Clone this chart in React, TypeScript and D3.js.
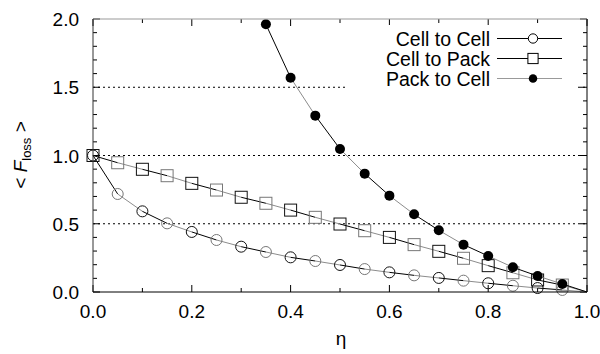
import React from 'react';
import * as d3 from 'd3';

// eta values where the curves are sampled (last point is the shared end at 1.0)
const eta = [0, 0.05, 0.1, 0.15, 0.2, 0.25, 0.3, 0.35, 0.4, 0.45, 0.5, 0.55, 0.6, 0.65, 0.7, 0.75, 0.8, 0.85, 0.9, 0.95, 1.0];
const cellToCell = [1.0, 0.718, 0.591, 0.503, 0.44, 0.381, 0.332, 0.293, 0.254, 0.227, 0.198, 0.168, 0.144, 0.122, 0.103, 0.083, 0.064, 0.046, 0.029, 0.015, 0];
const cellToPack = [1.0, 0.947, 0.899, 0.852, 0.796, 0.747, 0.694, 0.65, 0.6, 0.547, 0.498, 0.449, 0.4, 0.347, 0.298, 0.247, 0.193, 0.141, 0.088, 0.051, 0];
const packEta = [0.35, 0.4, 0.45, 0.5, 0.55, 0.6, 0.65, 0.7, 0.75, 0.8, 0.85, 0.9, 0.95, 1.0];
const packToCell = [1.961, 1.57, 1.292, 1.048, 0.867, 0.706, 0.569, 0.452, 0.347, 0.264, 0.181, 0.117, 0.059, 0];

const xTicks = [0, 0.2, 0.4, 0.6, 0.8, 1.0];
const yTicks = [0, 0.5, 1.0, 1.5, 2.0];
const gridLevels = [0.5, 1.0, 1.5];
const seriesNames = ['Cell to Cell', 'Cell to Pack', 'Pack to Cell'];

const width = 600;
const height = 354;
const margin = { top: 19, right: 13, bottom: 62, left: 93 };
const font = '"Liberation Sans", Arial, sans-serif';
const segColors = ['#000', '#8c8c8c'];

type Pt = { x: number; y: number };

const x = d3.scaleLinear().domain([0, 1]).range([margin.left, width - margin.right]);
const y = d3.scaleLinear().domain([0, 2]).range([height - margin.bottom, margin.top]);

const toPts = (xs: number[], ys: number[]): Pt[] => xs.map((v, i) => ({ x: v, y: ys[i] }));

const series: { name: string; pts: Pt[]; marker: 'circle' | 'square' | 'dot' }[] = [
  { name: seriesNames[0], pts: toPts(eta, cellToCell), marker: 'circle' },
  { name: seriesNames[1], pts: toPts(eta, cellToPack), marker: 'square' },
  { name: seriesNames[2], pts: toPts(packEta, packToCell), marker: 'dot' },
];

const Marker = ({ kind, cx, cy, color, legend }: { kind: string; cx: number; cy: number; color: string; legend?: boolean }) => {
  const s = legend ? 0.85 : 1;
  if (kind === 'circle')
    return <circle cx={cx} cy={cy} r={5.5 * s} fill={legend ? '#fff' : 'none'} stroke={color} strokeWidth={1} />;
  if (kind === 'square')
    return <rect x={cx - 6 * s} y={cy - 6 * s} width={12 * s} height={12 * s} fill={legend ? '#fff' : 'none'} stroke={color} strokeWidth={1} />;
  return <circle cx={cx} cy={cy} r={5 * s} fill="#000" />;
};

export default function App() {
  const x0 = x(0), x1 = x(1), y0 = y(0), y1 = y(2);
  const minorX = d3.range(0, 1.0001, 0.1);
  const minorY = d3.range(0, 2.0001, 0.1);

  return (
    <div style={{ position: 'absolute', left: 0, top: 0, background: '#fff' }}>
      <svg width={width} height={height} style={{ display: 'block', fontFamily: font }}>
        <rect width={width} height={height} fill="#fff" />

        {/* dotted reference lines */}
        {gridLevels.map(g => (
          <line key={g} x1={x0} x2={x1} y1={y(g)} y2={y(g)} stroke="#000" strokeWidth={1} strokeDasharray="2,3" />
        ))}

        {/* ticks on all four sides, pointing inwards */}
        {minorX.map((t, i) => {
          const len = i % 2 === 0 ? 7 : 4;
          return (
            <g key={'tx' + i}>
              <line x1={x(t)} x2={x(t)} y1={y0} y2={y0 - len} stroke="#000" />
              <line x1={x(t)} x2={x(t)} y1={y1} y2={y1 + len} stroke="#000" />
            </g>
          );
        })}
        {minorY.map((t, i) => {
          const len = i % 5 === 0 ? 7 : 4;
          return (
            <g key={'ty' + i}>
              <line x1={x0} x2={x0 + len} y1={y(t)} y2={y(t)} stroke="#000" />
              <line x1={x1} x2={x1 - len} y1={y(t)} y2={y(t)} stroke="#000" />
            </g>
          );
        })}

        {/* series */}
        {series.map(s => (
          <g key={s.name}>
            {d3.pairs(s.pts).map(([a, b], i) => (
              <line key={i} x1={x(a.x)} y1={y(a.y)} x2={x(b.x)} y2={y(b.y)} stroke={segColors[i % 2]} strokeWidth={1} />
            ))}
            {s.pts.filter(p => p.x < 1).map((p, i) => (
              <Marker key={i} kind={s.marker} cx={x(p.x)} cy={y(p.y)} color={segColors[i % 2] === '#000' ? '#111' : '#777'} />
            ))}
          </g>
        ))}

        {/* legend */}
        <rect x={345} y={25} width={230} height={66} fill="#fff" />
        {series.map((s, i) => {
          const cy = 38.5 + i * 20;
          return (
            <g key={'lg' + i}>
              <text x={490} y={cy + 7} textAnchor="end" fontSize={19.5} fill="#000">{s.name}</text>
              <line x1={497} x2={562} y1={cy} y2={cy} stroke={i === 2 ? '#999' : '#000'} />
              <Marker kind={s.marker} cx={533} cy={cy} color="#000" legend />
            </g>
          );
        })}

        {/* frame */}
        <line x1={x0} x2={x1} y1={y1} y2={y1} stroke="#999" />
        <line x1={x1} x2={x1} y1={y1} y2={y0} stroke="#000" />
        <line x1={x0} x2={x0} y1={y1} y2={y0} stroke="#333" />
        <line x1={x0} x2={x1} y1={y0} y2={y0} stroke="#000" />

        {/* tick labels */}
        {xTicks.map(t => (
          <text key={'xl' + t} x={x(t)} y={318} textAnchor="middle" fontSize={19} fill="#000">{t.toFixed(1)}</text>
        ))}
        {yTicks.map(t => (
          <text key={'yl' + t} x={79} y={y(t) + 7} textAnchor="end" fontSize={19} fill="#000">{t.toFixed(1)}</text>
        ))}

        {/* axis titles */}
        <text x={341} y={345} textAnchor="middle" fontSize={19} fill="#000">η</text>
        <text transform="translate(27,155) rotate(-90)" textAnchor="middle" fontSize={19} fill="#000">
          {'< '}
          <tspan fontStyle="italic">F</tspan>
          <tspan fontSize={13} dy={4}>loss</tspan>
          <tspan dy={-4}>{' >'}</tspan>
        </text>
      </svg>
    </div>
  );
}
